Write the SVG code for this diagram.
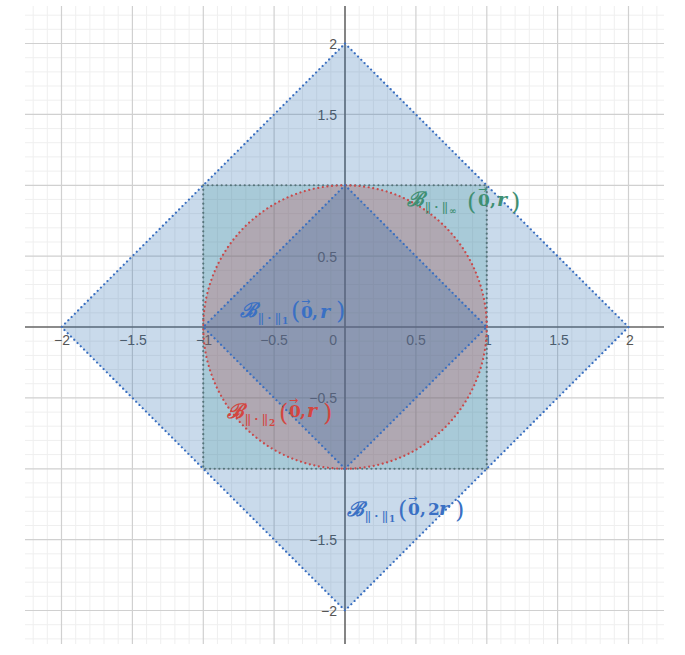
<svg xmlns="http://www.w3.org/2000/svg" width="685" height="655" viewBox="0 0 685 655">
<style>
.minor{stroke:#efefef;stroke-width:1;fill:none}
.major{stroke:#d0d0d0;stroke-width:1.2;fill:none}
.axis{stroke:#666;stroke-width:1.6;fill:none}
.tick{font-family:"Liberation Sans",Arial,sans-serif;font-size:14px;fill:#555}
.dot{stroke-width:2.2;stroke-linecap:round;stroke-dasharray:0.01 4.6;fill-rule:nonzero}
.bl{fill:#3a70c4}
.rd{fill:#d3463f}
.gr{fill:#3f8f73}
.cal{font-family:"DejaVu Serif",serif;font-style:italic;font-weight:bold;font-size:20px}
.bar{font-family:"Liberation Sans",sans-serif;font-size:13px;letter-spacing:-1px}
.cdot{font-family:"Liberation Sans",sans-serif;font-size:13px;font-weight:bold}
.sub2{font-family:"DejaVu Serif",serif;font-weight:bold;font-size:9px}
.par{font-family:"DejaVu Serif",serif;font-size:24px}
.num{font-family:"DejaVu Serif",serif;font-weight:bold;font-size:17px}
.var{font-family:"DejaVu Serif",serif;font-weight:bold;font-style:italic;font-size:19px}
.vec{font-family:"DejaVu Sans",sans-serif;font-size:11px}
</style>
<rect width="685" height="655" fill="#fff"/>
<g id="grid">
<path class="minor" d="M33.2 6V644M47.3 6V644M75.7 6V644M89.9 6V644M104 6V644M118.2 6V644M146.6 6V644M160.7 6V644M174.9 6V644M189.1 6V644M217.4 6V644M231.6 6V644M245.8 6V644M260 6V644M288.3 6V644M302.5 6V644M316.7 6V644M330.8 6V644M359.2 6V644M373.4 6V644M387.5 6V644M401.7 6V644M430.1 6V644M444.2 6V644M458.4 6V644M472.6 6V644M500.9 6V644M515.1 6V644M529.3 6V644M543.5 6V644M571.8 6V644M586 6V644M600.2 6V644M614.3 6V644M642.7 6V644M656.9 6V644"/>
<path class="minor" d="M25 15.2H664M25 29.3H664M25 57.7H664M25 71.9H664M25 86H664M25 100.2H664M25 128.6H664M25 142.7H664M25 156.9H664M25 171.1H664M25 199.4H664M25 213.6H664M25 227.8H664M25 242H664M25 270.3H664M25 284.5H664M25 298.7H664M25 312.8H664M25 341.2H664M25 355.4H664M25 369.5H664M25 383.7H664M25 412.1H664M25 426.2H664M25 440.4H664M25 454.6H664M25 482.9H664M25 497.1H664M25 511.3H664M25 525.5H664M25 553.8H664M25 568H664M25 582.2H664M25 596.3H664M25 624.7H664M25 638.9H664"/>
<path class="major" d="M61.5 6V644M132.4 6V644M203.3 6V644M274.1 6V644M415.9 6V644M486.8 6V644M557.6 6V644M628.5 6V644"/>
<path class="major" d="M25 43.5H664M25 114.4H664M25 185.3H664M25 256.1H664M25 397.9H664M25 468.8H664M25 539.6H664M25 610.5H664"/>
<path class="axis" d="M25 327H664M345 6V644"/>
</g>
<g id="ticks" class="tick">
<text x="62" y="345" text-anchor="middle">−2</text>
<text x="133" y="345" text-anchor="middle">−1.5</text>
<text x="204" y="345" text-anchor="middle">−1</text>
<text x="274" y="345" text-anchor="middle">−0.5</text>
<text x="337" y="345" text-anchor="end">0</text>
<text x="416" y="345" text-anchor="middle">0.5</text>
<text x="488" y="345" text-anchor="middle">1</text>
<text x="559" y="345" text-anchor="middle">1.5</text>
<text x="630" y="345" text-anchor="middle">2</text>
<text x="337" y="49" text-anchor="end">2</text>
<text x="337" y="120" text-anchor="end">1.5</text>
<text x="337" y="262" text-anchor="end">0.5</text>
<text x="337" y="403" text-anchor="end">−0.5</text>
<text x="337" y="545" text-anchor="end">−1.5</text>
<text x="337" y="616" text-anchor="end">−2</text>
</g>
<g id="ball-l1-2r">
<polygon class="dot" points="345,43.5 628.5,327 345,610.5 61.5,327" fill="#2d70b3" fill-opacity="0.26" stroke="#3a6fc0"/>
</g>
<g id="ball-linf">
<rect class="dot" x="203.25" y="185.25" width="283.5" height="283.5" fill="#2a8a8a" fill-opacity="0.2" stroke="#56747a"/>
</g>
<g id="ball-l2">
<circle class="dot" cx="345" cy="327" r="141.75" fill="#c74440" fill-opacity="0.25" stroke="#c9494a"/>
</g>
<g id="ball-l1-r">
<polygon class="dot" points="345,185.25 486.75,327 345,468.75 203.25,327" fill="#2d70b3" fill-opacity="0.27" stroke="#3a6fc0"/>
</g>
<g id="label-l1-r" class="bl">
<text class="cal" x="240" y="317">ℬ</text>
<text class="bar" x="258" y="322">||</text>
<text class="cdot" x="267.5" y="322">·</text>
<text class="bar" x="275" y="322">||</text>
<text class="sub2" x="282" y="324">1</text>
<text class="par" x="291" y="319">(</text>
<text class="num" x="301" y="318">0</text>
<text class="vec" x="301" y="305">→</text>
<text class="num" x="312" y="318">,</text>
<text class="var" x="320" y="318">r</text>
<text class="par" x="336" y="319">)</text>
</g>
<g id="label-l2-r" class="rd">
<text class="cal" x="227" y="418">ℬ</text>
<text class="bar" x="245" y="423">||</text>
<text class="cdot" x="254.5" y="423">·</text>
<text class="bar" x="262" y="423">||</text>
<text class="sub2" x="269" y="426">2</text>
<text class="par" x="279" y="421">(</text>
<text class="num" x="289" y="417">0</text>
<text class="vec" x="289" y="404">→</text>
<text class="num" x="300" y="417">,</text>
<text class="var" x="307" y="417">r</text>
<text class="par" x="323" y="421">)</text>
</g>
<g id="label-linf-r" class="gr">
<text class="cal" x="407" y="206">ℬ</text>
<text class="bar" x="425" y="211">||</text>
<text class="cdot" x="434.5" y="211">·</text>
<text class="bar" x="442" y="211">||</text>
<text class="sub2" x="449" y="214" font-size="12" font-weight="normal">∞</text>
<text class="par" x="467" y="210" font-size="27">(</text>
<text class="num" x="478" y="206">0</text>
<text class="vec" x="478" y="193">→</text>
<text class="num" x="490" y="206">,</text>
<text class="var" x="497" y="206">r</text>
<text class="par" x="511" y="210" font-size="27">)</text>
</g>
<g id="label-l1-2r" class="bl">
<text class="cal" x="347" y="516">ℬ</text>
<text class="bar" x="365" y="520">||</text>
<text class="cdot" x="374.5" y="520">·</text>
<text class="bar" x="382" y="520">||</text>
<text class="sub2" x="389" y="522">1</text>
<text class="par" x="398" y="518">(</text>
<text class="num" x="408" y="515">0</text>
<text class="vec" x="408" y="502">→</text>
<text class="num" x="420" y="515">,</text>
<text class="num" x="428" y="515">2</text>
<text class="var" x="439" y="515">r</text>
<text class="par" x="455" y="518">)</text>
</g>
</svg>
